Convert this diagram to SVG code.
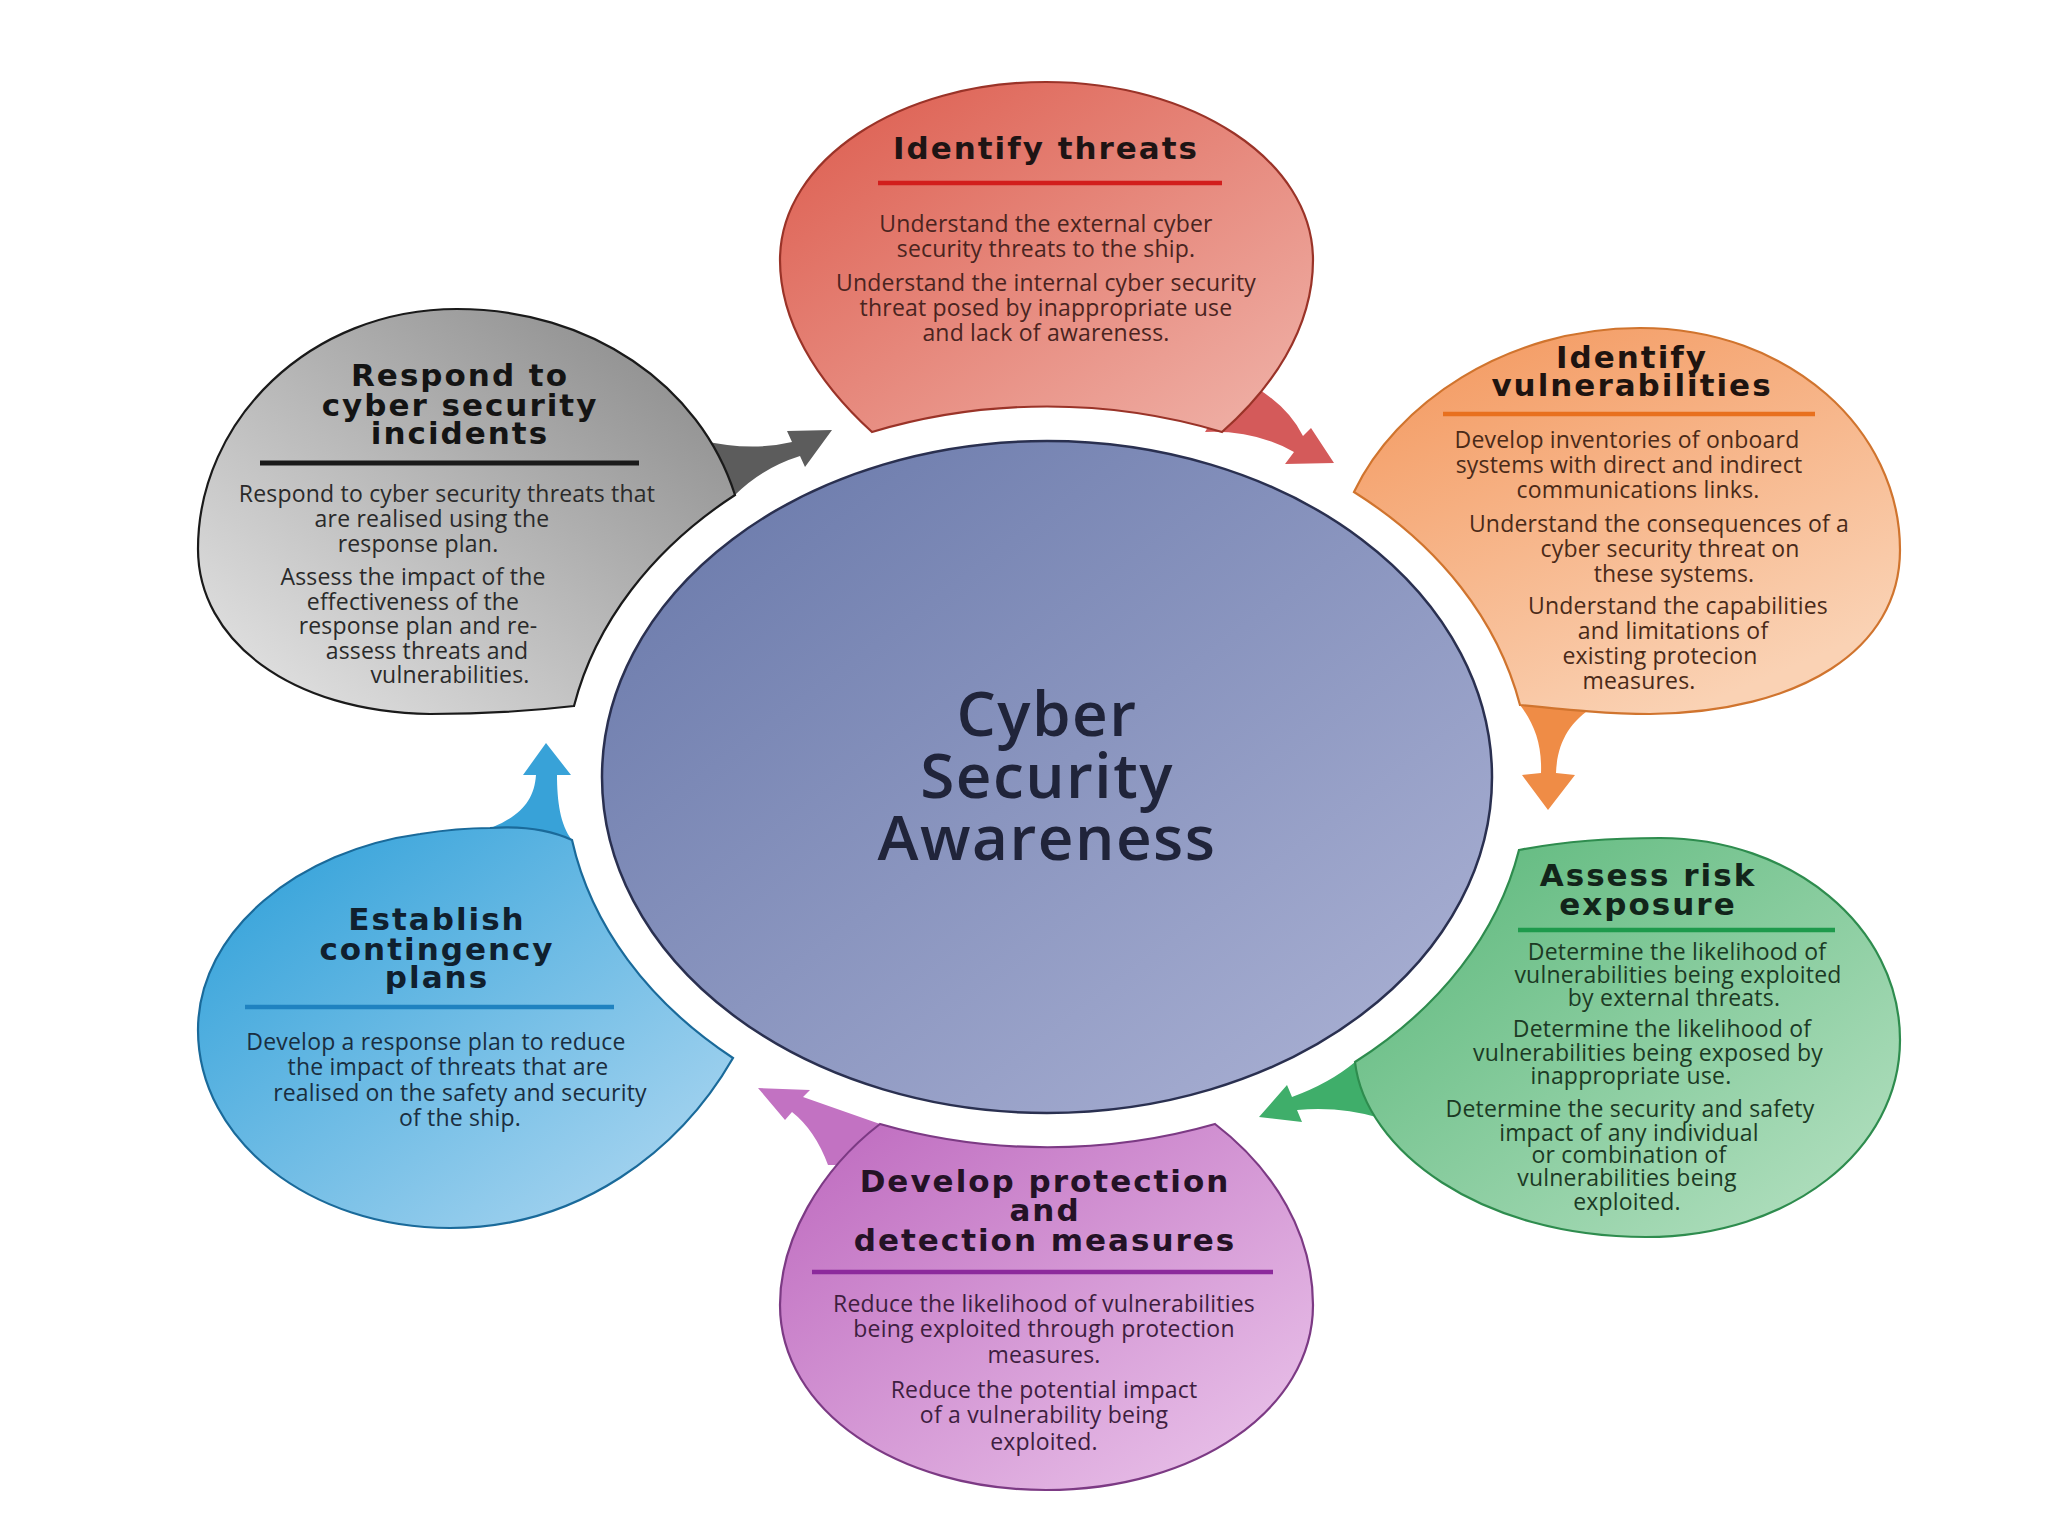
<svg xmlns="http://www.w3.org/2000/svg" width="2048" height="1536" viewBox="0 0 2048 1536">
<defs>
<linearGradient id="gRed" x1="0" y1="0" x2="1" y2="1"><stop offset="0" stop-color="#dc5a4c"/><stop offset="1" stop-color="#f0b4aa"/></linearGradient>
<linearGradient id="gOrange" x1="0" y1="0" x2="0.6" y2="1"><stop offset="0" stop-color="#f3955a"/><stop offset="1" stop-color="#fad2b4"/></linearGradient>
<linearGradient id="gGreen" x1="0" y1="0" x2="1" y2="1"><stop offset="0" stop-color="#58b678"/><stop offset="1" stop-color="#b8e2c4"/></linearGradient>
<linearGradient id="gPurple" x1="0" y1="0" x2="1" y2="1"><stop offset="0" stop-color="#bd68be"/><stop offset="1" stop-color="#ecc8ec"/></linearGradient>
<linearGradient id="gBlue" x1="0" y1="0" x2="1" y2="1"><stop offset="0" stop-color="#2a9ed8"/><stop offset="1" stop-color="#b4daf2"/></linearGradient>
<linearGradient id="gGray" x1="1" y1="0" x2="0" y2="1"><stop offset="0" stop-color="#858585"/><stop offset="1" stop-color="#e8e8e8"/></linearGradient>
<linearGradient id="gCenter" x1="0" y1="0" x2="1" y2="1"><stop offset="0" stop-color="#6676a8"/><stop offset="1" stop-color="#aeb4d6"/></linearGradient>
<style>
.ttl{font-family:'DejaVu Sans','Liberation Sans',sans-serif;font-weight:700;font-size:31px;letter-spacing:2px;text-anchor:middle;}
.bd{font-family:'Open Sans','Liberation Sans',sans-serif;font-size:23px;letter-spacing:0.2px;text-anchor:middle;}
.bub{stroke-width:2.2;}
.rule{stroke-width:4.5;}
.ctr{font-family:'Open Sans','Liberation Sans',sans-serif;font-weight:600;font-size:62px;letter-spacing:1.5px;text-anchor:middle;fill:#20243a;}
</style>
</defs>
<rect x="0" y="0" width="2048" height="1536" fill="#ffffff"/>

<g id="connectors">
<path id="tail-red" d="M1238,378 Q1285,400 1303,436 L1311,428 L1334,463 L1285,464 L1294,452 Q1255,430 1205,432 Z" fill="#d45a5a"/>
<path id="tail-orange" d="M1520,705 C1535,725 1542,745 1541,773 L1522,775 L1548,810 L1575,775 L1556,773 C1557,745 1568,722 1595,706 L1560,690 Z" fill="#ef8c46"/>
<path id="tail-green" d="M1355,1062 Q1330,1083 1292,1097 L1287,1085 L1259,1117 L1302,1122 L1297,1110 Q1340,1106 1380,1118 L1400,1090 Z" fill="#3fae6a"/>
<path id="tail-purple" d="M880,1124 Q840,1110 803,1097 L810,1090 L758,1088 L785,1120 L792,1112 Q815,1130 828,1165 L900,1165 Z" fill="#c272c2"/>
<path id="tail-blue" d="M470,835 C515,822 534,805 536,775 L523,775 L546,743 L571,775 L557,775 C557,800 560,825 572,840 L560,860 Z" fill="#38a2d8"/>
<path id="tail-gray" d="M700,440 Q750,452 792,442 L787,431 L832,430 L805,467 L800,456 Q762,468 735,495 L700,500 Z" fill="#5c5c5c"/>
</g>

<g id="node-identify-threats">
<path class="bub" d="M872,432 C815,380 780,320 780,260 C780,160 900,82 1046,82 C1192,82 1313,160 1313,260 C1313,330 1270,390 1222,432 C1109,398 985,398 872,432 Z" fill="url(#gRed)" stroke="#9a3328"/>
<text class="ttl" x="1046" y="159" fill="#1e1414">Identify threats</text>
<line class="rule" x1="878" y1="183" x2="1222" y2="183" stroke="#d21e1c"/>
<g class="bd" fill="#4a2420">
<text x="1046" y="232">Understand the external cyber</text>
<text x="1046" y="257">security threats to the ship.</text>
<text x="1046" y="291">Understand the internal cyber security</text>
<text x="1046" y="316">threat posed by inappropriate use</text>
<text x="1046" y="341">and lack of awareness.</text>
</g>
</g>

<g id="node-identify-vulnerabilities">
<path class="bub" d="M1354,492 C1395,405 1505,328 1640,328 C1790,328 1900,430 1900,550 C1900,650 1800,712 1650,714 C1610,714 1570,710 1520,705 C1498,621 1440,546 1354,492 Z" fill="url(#gOrange)" stroke="#d0742e"/>
<text class="ttl" x="1632" y="368" fill="#1e1410">Identify</text>
<text class="ttl" x="1632" y="396" fill="#1e1410">vulnerabilities</text>
<line class="rule" x1="1443" y1="414" x2="1815" y2="414" stroke="#e8701e"/>
<g class="bd" fill="#4a2a18">
<text x="1627" y="448">Develop inventories of onboard</text>
<text x="1629" y="473">systems with direct and indirect</text>
<text x="1638" y="498">communications links.</text>
<text x="1659" y="532">Understand the consequences of a</text>
<text x="1670" y="557">cyber security threat on</text>
<text x="1674" y="582">these  systems.</text>
<text x="1678" y="614">Understand the capabilities</text>
<text x="1673" y="639">and limitations of</text>
<text x="1660" y="664">existing protecion</text>
<text x="1639" y="689">measures.</text>
</g>
</g>

<g id="node-assess-risk">
<path class="bub" d="M1519,850 C1498,933 1440,1008 1355,1062 C1365,1150 1480,1237 1646,1237 C1790,1237 1900,1150 1900,1040 C1900,925 1790,838 1660,838 C1605,838 1560,842 1519,850 Z" fill="url(#gGreen)" stroke="#2e8c4e"/>
<text class="ttl" x="1648" y="886" fill="#12241a">Assess risk</text>
<text class="ttl" x="1648" y="915" fill="#12241a">exposure</text>
<line class="rule" x1="1518" y1="930" x2="1835" y2="930" stroke="#1e9a4c"/>
<g class="bd" fill="#1c3a24">
<text x="1677" y="960">Determine the likelihood of</text>
<text x="1678" y="983">vulnerabilities being exploited</text>
<text x="1674" y="1006">by external threats.</text>
<text x="1662" y="1037">Determine the likelihood of</text>
<text x="1648" y="1061">vulnerabilities being exposed by</text>
<text x="1631" y="1084">inappropriate use.</text>
<text x="1630" y="1117">Determine the security and safety</text>
<text x="1629" y="1141">impact of any individual</text>
<text x="1629" y="1163">or combination of</text>
<text x="1627" y="1186">vulnerabilities being</text>
<text x="1627" y="1210">exploited.</text>
</g>
</g>

<g id="node-develop-protection">
<path class="bub" d="M880,1124 C988,1155 1107,1155 1215,1124 C1275,1170 1313,1235 1313,1305 C1313,1410 1195,1490 1046,1490 C897,1490 780,1410 780,1305 C780,1240 820,1170 880,1124 Z" fill="url(#gPurple)" stroke="#7c3a84"/>
<text class="ttl" x="1045" y="1192" fill="#241226">Develop protection</text>
<text class="ttl" x="1045" y="1221" fill="#241226">and</text>
<text class="ttl" x="1045" y="1251" fill="#241226">detection measures</text>
<line class="rule" x1="812" y1="1272" x2="1273" y2="1272" stroke="#8c2a9c"/>
<g class="bd" fill="#3e1e40">
<text x="1044" y="1312">Reduce the likelihood of vulnerabilities</text>
<text x="1044" y="1337">being exploited through protection</text>
<text x="1044" y="1363">measures.</text>
<text x="1044" y="1398">Reduce the potential impact</text>
<text x="1044" y="1423">of a vulnerability being</text>
<text x="1044" y="1450">exploited.</text>
</g>
</g>

<g id="node-contingency-plans">
<path class="bub" d="M490,828 C520,826 550,830 572,840 C591,925 648,1002 733,1058 C680,1150 580,1228 450,1228 C310,1228 198,1140 198,1030 C198,930 300,850 420,834 C445,830 470,828 490,828 Z" fill="url(#gBlue)" stroke="#1a6a9a"/>
<text class="ttl" x="437" y="930" fill="#10202e">Establish</text>
<text class="ttl" x="437" y="960" fill="#10202e">contingency</text>
<text class="ttl" x="437" y="988" fill="#10202e">plans</text>
<line class="rule" x1="245" y1="1007" x2="614" y2="1007" stroke="#1f82c0"/>
<g class="bd" fill="#1a2e40">
<text x="436" y="1050">Develop a response plan to reduce</text>
<text x="448" y="1075">the impact of threats that are</text>
<text x="460" y="1101">realised on the safety and security</text>
<text x="460" y="1126">of the ship.</text>
</g>
</g>

<g id="node-respond-incidents">
<path class="bub" d="M574,706 C595,624 652,549 735,495 C700,385 590,309 457,309 C310,309 198,420 198,549 C198,640 290,712 430,714 C490,714 540,710 574,706 Z" fill="url(#gGray)" stroke="#1a1a1a"/>
<text class="ttl" x="460" y="386" fill="#141414">Respond to</text>
<text class="ttl" x="460" y="416" fill="#141414">cyber security</text>
<text class="ttl" x="460" y="444" fill="#141414">incidents</text>
<line x1="260" y1="463" x2="639" y2="463" stroke="#1a1a1a" stroke-width="5"/>
<g class="bd" fill="#2a2a2a">
<text x="447" y="502">Respond to cyber security threats that</text>
<text x="432" y="527">are realised using the</text>
<text x="418" y="552">response plan.</text>
<text x="413" y="585">Assess the impact of the</text>
<text x="413" y="610">effectiveness of the</text>
<text x="418" y="634">response plan and re-</text>
<text x="427" y="659">assess threats  and</text>
<text x="450" y="683">vulnerabilities.</text>
</g>
</g>

<g id="node-center">
<ellipse cx="1047" cy="777" rx="445" ry="336" fill="url(#gCenter)" stroke="#2a3050" stroke-width="2.5"/>
<text class="ctr" x="1047" y="736">Cyber</text>
<text class="ctr" x="1047" y="798">Security</text>
<text class="ctr" x="1047" y="860">Awareness</text>
</g>
</svg>
